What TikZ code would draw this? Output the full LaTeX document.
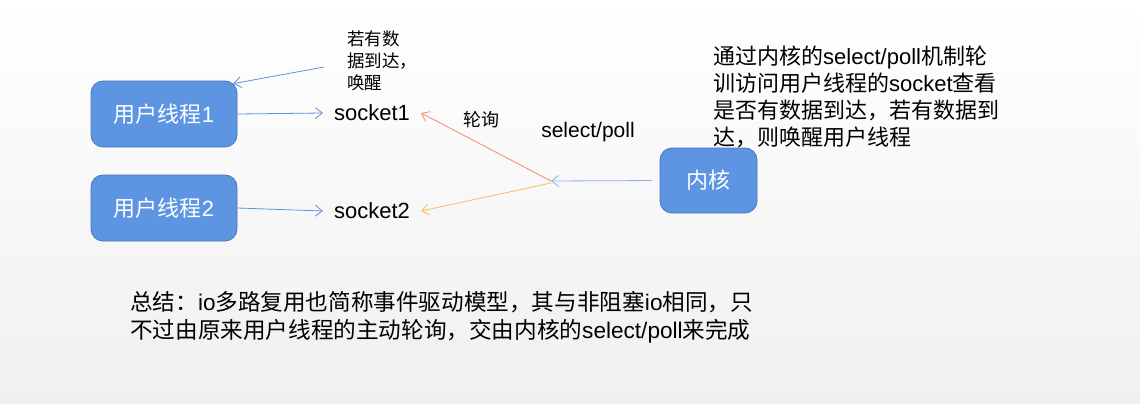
\documentclass[tikz,border=0pt]{standalone}
\usepackage{fontspec}
\setmainfont{Liberation Sans}
\newfontfamily\cjk{Noto Sans CJK SC}
\usetikzlibrary{arrows.meta}
\definecolor{boxfill}{RGB}{93,149,226}
\definecolor{boxline}{RGB}{70,118,188}
\definecolor{arrblue}{RGB}{95,145,220}
\definecolor{arrlight}{RGB}{140,175,235}
\definecolor{arrred}{RGB}{245,135,115}
\definecolor{arrorange}{RGB}{255,185,95}
\definecolor{bgbottom}{RGB}{240,240,240}
\newcommand\zh[1]{{\cjk #1}}
\begin{document}
\begin{tikzpicture}[x=1pt,y=-1pt,
  tbox/.style={draw=boxline, fill=boxfill, rounded corners=12pt, line width=0.8pt,
    text=white, font=\fontsize{22}{26}\selectfont, inner sep=0pt,
    minimum width=146pt, minimum height=66pt},
  sock/.style={font=\fontsize{22}{26}\selectfont, inner xsep=11pt, inner ysep=2pt},
  conn/.style={line width=0.8pt, -{Straight Barb[length=7pt,width=11pt]}}]
\shade[top color=white, bottom color=bgbottom] (0,0) rectangle (1140,404);
\useasboundingbox (0,0) rectangle (1140,404);

\node[tbox] (u1) at (164,114) {\zh{用户线程}1};
\node[tbox] (u2) at (164,208) {\zh{用户线程}2};
\node[tbox, minimum width=97pt, minimum height=65pt] (k) at (708.5,180.5) {\zh{内核}};
\node[sock] (s1) at (372,113) {socket1};
\node[sock] (s2) at (372,211) {socket2};
\coordinate (hub) at (551,181);
\coordinate (noteend) at (324,67);

\node[anchor=north west, inner sep=0pt, align=left, font=\cjk\fontsize{17.5}{22}\selectfont] (note) at (347,31) {若有数\\据到达，\\唤醒};
\node[font=\cjk\fontsize{18}{22}\selectfont] (poll) at (481,120) {轮询};
\node[font=\fontsize{21}{26}\selectfont] (sp) at (588,132) {select/poll};
\node[anchor=north west, inner sep=0pt, align=left, font=\fontsize{22}{27}\selectfont] (desc) at (713,46)
  {\zh{通过内核的}select/poll\zh{机制轮}\\\zh{训访问用户线程的}socket\zh{查看}\\\zh{是否有数据到达，若有数据到}\\\zh{达，则唤醒用户线程}};
\node[anchor=north west, inner sep=0pt, align=left, font=\fontsize{22.6}{28}\selectfont] (sum) at (130,291)
  {\zh{总结：}io\zh{多路复用也简称事件驱动模型，其与非阻塞}io\zh{相同，只}\\\zh{不过由原来用户线程的主动轮询，交由内核的}select/poll\zh{来完成}};

\draw[conn, arrblue] (u1.east) -- (s1.west);
\draw[conn, arrblue] (u2.east) -- (s2.west);
\draw[conn, arrblue] (noteend) -- ([xshift=-4pt,yshift=-3pt]u1.north east);
\draw[conn, arrlight, shorten <=8pt] (k.west) -- (hub);
\draw[conn, arrred] (hub) -- (s1.east);
\draw[conn, arrorange] ([yshift=-2pt]hub) -- (s2.east);
\end{tikzpicture}
\end{document}
